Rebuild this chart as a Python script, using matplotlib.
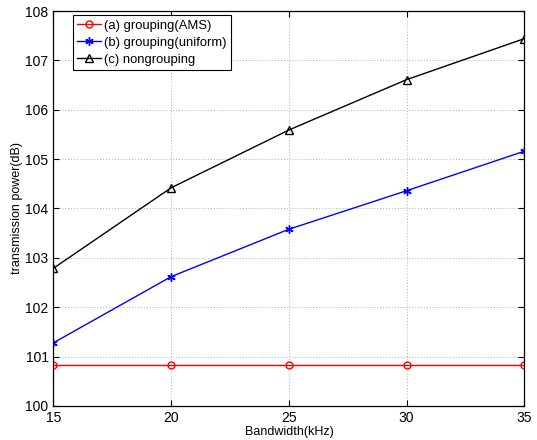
import numpy as np
import matplotlib
matplotlib.use('Agg')
import matplotlib.pyplot as plt

plt.rcParams['font.family'] = ['Liberation Sans', 'DejaVu Sans']

# data
bandwidth = [15, 20, 25, 30, 35]
ams = [100.83, 100.83, 100.83, 100.83, 100.83]
uniform = [101.28, 102.62, 103.58, 104.36, 105.16]
nongrouping = [102.79, 104.42, 105.59, 106.61, 107.44]

fig = plt.figure(figsize=(5.37, 4.4), dpi=100)
ax = fig.add_axes([0.0996, 0.0773, 0.8768, 0.8977])

ax.plot(bandwidth, ams, color='red', marker='o', mfc='none', ms=5, lw=1,
        label='(a) grouping(AMS)')
ax.plot(bandwidth, uniform, color='blue', marker=(6, 2, 0), ms=6, mew=1,
        lw=1, label='(b) grouping(uniform)')
ax.plot(bandwidth, nongrouping, color='black', marker='^', mfc='none', ms=5.5,
        lw=1, label='(c) nongrouping')

ax.set_xlim(15, 35)
ax.set_ylim(100, 108)
ax.set_xticks([15, 20, 25, 30, 35])
ax.set_yticks(np.arange(100, 109, 1))
ax.tick_params(direction='in', top=True, right=True, labelsize=10, length=4)
ax.grid(True, linestyle=(0, (1, 2)), color='#b0b0b0', lw=0.7)
for s in ax.spines.values():
    s.set_linewidth(0.9)

ax.set_xlabel('Bandwidth(kHz)', fontsize=9, labelpad=1)
ax.set_ylabel('transmission power(dB)', fontsize=9, labelpad=2)

leg = ax.legend(loc='upper left', bbox_to_anchor=(0.041, 0.99), fontsize=9.4,
                fancybox=False, edgecolor='black', framealpha=1,
                handlelength=1.8, borderpad=0.35, labelspacing=0.38,
                handletextpad=0.25, borderaxespad=0)
leg.get_frame().set_linewidth(0.8)

fig.savefig('out.png')
